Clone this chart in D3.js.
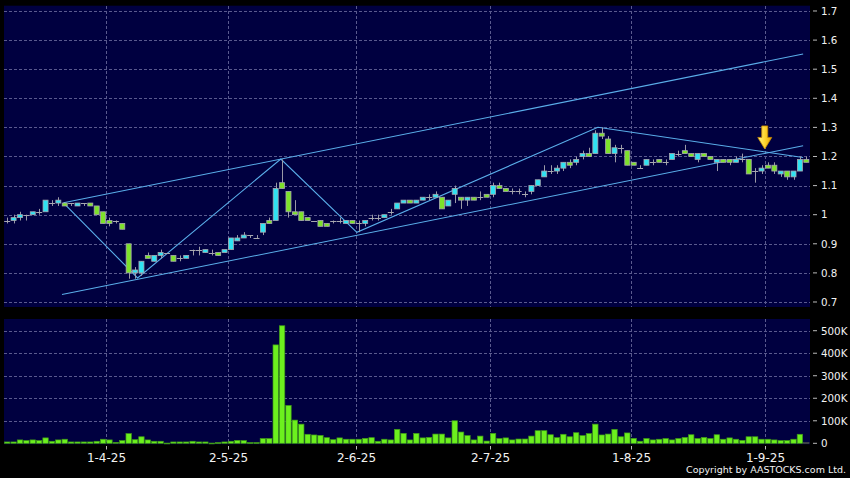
<!DOCTYPE html>
<html><head><meta charset="utf-8">
<script src="https://cdn.jsdelivr.net/npm/d3@7/dist/d3.min.js"></script>
<style>html,body{margin:0;padding:0;background:#000;}svg{display:block;}</style>
</head><body>
<svg id="c" width="850" height="478"></svg>
<script>
// ---- categories: HK trading days 10 Mar 2025 – 9 Sep 2025 ----
const marDays = [10,11,12,13,14,17,18,19,20,21,24,25,26,27,28,31];
const aprDays = [1,2,3,7,8,9,10,11,14,15,16,17,22,23,24,25,28,29,30];
const mayDays = [2,6,7,8,9,12,13,14,15,16,19,20,21,22,23,26,27,28,29,30];
const junDays = [2,3,4,5,6,9,10,11,12,13,16,17,18,19,20,23,24,25,26,27,30];
const julDays = [2,3,4,7,8,9,10,11,14,15,16,17,18,21,22,23,24,25,28,29,30,31];
const augDays = [1,4,5,6,7,8,11,12,13,14,15,18,19,20,21,22,25,26,27,28,29];
const sepDays = [1,2,3,4,5,8,9];
const monthDays = [[3,marDays],[4,aprDays],[5,mayDays],[6,junDays],[7,julDays],[8,augDays],[9,sepDays]];
const dates = monthDays.flatMap(([m,ds]) => ds.map(d => `2025-${String(m).padStart(2,"0")}-${String(d).padStart(2,"0")}`));

// ---- series ----
const open  = [0.98,0.98,0.99,1.00,1.00,1.01,1.01,1.04,1.04,1.04,1.04,1.03,1.04,1.04,1.03,1.01,0.98,0.98,0.97,0.90,
               0.80,0.80,0.86,0.84,0.86,0.87,0.86,0.85,0.85,0.88,0.88,0.87,0.87,0.87,0.87,0.88,0.91,0.92,0.93,0.92,
               0.94,0.98,0.98,1.11,1.08,1.01,1.01,0.99,0.98,0.98,0.97,0.98,0.98,0.97,0.98,0.97,0.97,0.99,0.99,0.99,
               1.01,1.02,1.04,1.05,1.04,1.05,1.06,1.06,1.06,1.03,1.07,1.06,1.05,1.06,1.06,1.07,1.07,1.10,1.09,1.08,
               1.08,1.07,1.08,1.10,1.13,1.15,1.15,1.16,1.18,1.18,1.20,1.21,1.21,1.28,1.26,1.21,1.23,1.22,1.18,1.16,
               1.17,1.18,1.19,1.18,1.19,1.21,1.22,1.21,1.19,1.21,1.20,1.18,1.19,1.19,1.18,1.19,1.19,1.15,1.15,1.17,
               1.17,1.14,1.15,1.13,1.15,1.19];
const high  = [0.99,1.00,1.01,1.00,1.01,1.02,1.05,1.05,1.06,1.04,1.04,1.04,1.04,1.04,1.03,1.01,0.99,0.98,0.97,0.90,
               0.82,0.84,0.87,0.86,0.88,0.87,0.86,0.86,0.86,0.88,0.89,0.88,0.88,0.87,0.88,0.92,0.93,0.94,0.93,0.93,
               0.97,0.99,1.11,1.19,1.08,1.05,1.01,0.99,0.98,0.98,0.97,0.98,0.99,0.98,0.98,0.98,0.98,1.00,1.00,1.00,
               1.02,1.04,1.05,1.05,1.05,1.06,1.07,1.08,1.06,1.05,1.10,1.06,1.06,1.06,1.08,1.07,1.11,1.11,1.09,1.09,
               1.09,1.08,1.10,1.12,1.17,1.17,1.17,1.18,1.19,1.20,1.22,1.23,1.29,1.30,1.27,1.24,1.24,1.22,1.18,1.17,
               1.19,1.19,1.19,1.19,1.21,1.22,1.24,1.21,1.21,1.21,1.20,1.19,1.19,1.19,1.20,1.21,1.19,1.16,1.17,1.18,
               1.18,1.15,1.15,1.15,1.20,1.20];
const low   = [0.97,0.97,0.98,0.98,1.00,1.00,1.01,1.03,1.03,1.03,1.03,1.03,1.03,1.03,1.00,0.97,0.96,0.97,0.95,0.78,
               0.78,0.79,0.85,0.84,0.85,0.87,0.84,0.84,0.85,0.86,0.86,0.87,0.86,0.86,0.87,0.88,0.91,0.92,0.92,0.92,
               0.93,0.97,0.98,1.09,0.99,1.00,0.98,0.98,0.98,0.96,0.96,0.97,0.97,0.97,0.97,0.94,0.96,0.98,0.98,0.99,
               1.00,1.02,1.04,1.04,1.04,1.05,1.05,1.06,1.02,1.03,1.04,1.02,1.03,1.05,1.05,1.06,1.06,1.09,1.08,1.07,
               1.07,1.06,1.07,1.10,1.13,1.14,1.14,1.15,1.16,1.17,1.19,1.20,1.21,1.26,1.21,1.18,1.21,1.17,1.17,1.16,
               1.17,1.17,1.18,1.17,1.19,1.20,1.21,1.20,1.18,1.20,1.19,1.15,1.18,1.17,1.18,1.18,1.14,1.11,1.14,1.16,
               1.14,1.13,1.12,1.12,1.15,1.18];
const close = [0.98,0.99,1.00,1.00,1.01,1.01,1.05,1.04,1.05,1.03,1.04,1.04,1.04,1.03,1.00,0.97,0.97,0.98,0.95,0.80,
               0.81,0.84,0.85,0.86,0.87,0.87,0.84,0.85,0.86,0.88,0.88,0.88,0.87,0.86,0.88,0.92,0.92,0.93,0.93,0.92,
               0.97,0.97,1.09,1.09,1.01,1.00,0.98,0.98,0.98,0.96,0.96,0.98,0.98,0.98,0.97,0.97,0.98,0.99,0.99,1.00,
               1.01,1.04,1.05,1.04,1.05,1.06,1.06,1.07,1.02,1.05,1.09,1.05,1.06,1.05,1.06,1.06,1.10,1.09,1.08,1.08,
               1.08,1.07,1.10,1.12,1.15,1.15,1.16,1.18,1.17,1.19,1.21,1.20,1.28,1.27,1.21,1.23,1.23,1.17,1.17,1.16,
               1.19,1.18,1.18,1.18,1.21,1.21,1.21,1.20,1.21,1.20,1.19,1.19,1.18,1.18,1.19,1.19,1.14,1.15,1.16,1.16,
               1.15,1.15,1.13,1.15,1.19,1.18];
// volume in thousands of shares
const volumeK = [6,6,15,12,15,12,24,9,15,18,6,6,6,6,9,18,15,4,12,43,
                 16,29,15,9,9,1,6,6,6,9,6,6,1,3,6,9,13,12,3,3,
                 21,21,437,522,168,103,85,40,37,35,25,16,24,18,18,18,22,25,9,18,
                 15,62,44,15,44,24,26,41,41,24,100,50,34,15,32,10,44,21,24,15,
                 19,19,32,56,56,38,25,40,29,47,34,43,85,37,41,62,29,46,22,9,
                 21,15,18,21,15,21,26,38,21,26,21,38,18,24,18,13,29,29,18,18,
                 15,12,12,18,40,3];

// ---- axis ticks / annotations ----
const priceTicks = [0.7,0.8,0.9,1.0,1.1,1.2,1.3,1.4,1.5,1.6,1.7];
const volumeTicks = [0,100000,200000,300000,400000,500000];
const monthTickDates = ["2025-04-01","2025-05-02","2025-06-02","2025-07-02","2025-08-01","2025-09-01"];
// trend lines as [candle index, price]
const channelUpper = [[8.8,1.041],[124.5,1.5522]];
const channelLower = [[8.57,0.7258],[124.5,1.2371]];
const zigzag = [[8.8,1.041],[20.4,0.7825],[42.8,1.1914],[54.7,0.9395],[92.4,1.3003],[124.5,1.1966]];
const arrowAt = [118.5, 1.226];

// ---- scales ----
const svg = d3.select("#c");
const n = dates.length;
const x = d3.scaleBand().domain(dates).range([4, 809.5]);
const step = x.step();
const cx = d => x(d) + step / 2;
const xi = d3.scaleLinear().domain([0, n - 1]).range([cx(dates[0]), cx(dates[n - 1])]);
const yP = d3.scaleLinear().domain([0.6828, 1.7182]).range([307, 5.7]);
const yV = d3.scaleLinear().domain([0, 552000]).range([443.3, 319]);
const panelL = 4, panelR = 810;

const rows = dates.map((d, i) => ({d, i, o: open[i], h: high[i], l: low[i], c: close[i], v: volumeK[i] * 1000}));

svg.append("rect").attr("width", 850).attr("height", 478).attr("fill", "#000");
const bg = "#000040";
svg.append("rect").attr("x", panelL).attr("y", yP.range()[1]).attr("width", panelR - panelL)
   .attr("height", yP.range()[0] - yP.range()[1]).attr("fill", bg);
svg.append("rect").attr("x", panelL).attr("y", yV.range()[1]).attr("width", panelR - panelL)
   .attr("height", yV.range()[0] - yV.range()[1] + 1).attr("fill", bg);

const gridCol = "#5a5a8e";
const grid = svg.append("g").attr("stroke", gridCol).attr("stroke-width", 1).attr("stroke-dasharray", "3,2").attr("shape-rendering", "crispEdges");
grid.selectAll(".hp").data(priceTicks).join("line")
  .attr("x1", panelL).attr("x2", panelR).attr("y1", d => Math.round(yP(d)) + 0.5).attr("y2", d => Math.round(yP(d)) + 0.5);
grid.selectAll(".hv").data(volumeTicks.slice(1)).join("line")
  .attr("x1", panelL).attr("x2", panelR).attr("y1", d => Math.round(yV(d)) + 0.5).attr("y2", d => Math.round(yV(d)) + 0.5);
monthTickDates.forEach(md => {
  const gx = Math.round(x(md)) + 0.5;
  grid.append("line").attr("x1", gx).attr("x2", gx).attr("y1", yP.range()[1]).attr("y2", yP.range()[0]);
  grid.append("line").attr("x1", gx).attr("x2", gx).attr("y1", yV.range()[1]).attr("y2", yV.range()[0]);
});

// ---- volume bars ----
svg.append("g").selectAll("rect").data(rows).join("rect")
  .attr("x", d => x(d.d) + 0.5).attr("width", step - 1.0)
  .attr("y", d => yV(d.v)).attr("height", d => Math.max(yV(0) - yV(d.v), 0.8))
  .attr("fill", d => d.i === n - 1 ? "#3c5a3c" : "#6cf01e")
  .attr("stroke", d => d.i === n - 1 ? "#4a4a4a" : "#3f9a18").attr("stroke-width", 0.7);

// ---- trend lines ----
const line = d3.line().x(p => xi(p[0])).y(p => yP(p[1]));
const tl = svg.append("g").attr("fill", "none").attr("stroke", "#5aaeea").attr("stroke-width", 1.1);
[channelUpper, channelLower, zigzag].forEach(pts => tl.append("path").attr("d", line(pts)));

// ---- candles ----
const cg = svg.append("g");
cg.selectAll(".wick").data(rows).join("line")
  .attr("x1", d => Math.round(cx(d.d)) + 0.5).attr("x2", d => Math.round(cx(d.d)) + 0.5)
  .attr("y1", d => yP(d.h)).attr("y2", d => yP(d.l))
  .attr("stroke", "#9a9aa6").attr("stroke-width", 1);
const bw = 5.0;
cg.selectAll(".body").data(rows.filter(r => r.c !== r.o)).join("rect")
  .attr("x", d => cx(d.d) - bw / 2).attr("width", bw)
  .attr("y", d => yP(Math.max(d.o, d.c))).attr("height", d => Math.abs(yP(d.o) - yP(d.c)))
  .attr("fill", d => d.c > d.o ? "#2fe2f2" : "#7de22a")
  .attr("stroke", "#a8a8b0").attr("stroke-width", 0.8);
cg.selectAll(".doji").data(rows.filter(r => r.c === r.o)).join("line")
  .attr("x1", d => cx(d.d) - bw / 2 - 0.5).attr("x2", d => cx(d.d) + bw / 2 + 0.5)
  .attr("y1", d => Math.round(yP(d.c)) + 0.5).attr("y2", d => Math.round(yP(d.c)) + 0.5)
  .attr("stroke", "#a8a8b0").attr("stroke-width", 1);

// ---- arrow ----
const defs = svg.append("defs");
const gr = defs.append("linearGradient").attr("id", "ag").attr("x1", "0").attr("x2", "1").attr("y1", "0").attr("y2", "0");
gr.append("stop").attr("offset", "0").attr("stop-color", "#fff488");
gr.append("stop").attr("offset", "0.5").attr("stop-color", "#ffd630");
gr.append("stop").attr("offset", "1").attr("stop-color", "#e8a400");
const ax = xi(arrowAt[0]), ay = yP(arrowAt[1]);
svg.append("path")
  .attr("d", `M${ax},${ay} L${ax-7},${ay-11.5} L${ax-3},${ay-11.5} L${ax-3},${ay-23} L${ax+3},${ay-23} L${ax+3},${ay-11.5} L${ax+7},${ay-11.5} Z`)
  .attr("fill", "url(#ag)").attr("stroke", "#c88a00").attr("stroke-width", 0.8);

// ---- right axes ----
const txt = "#f2f2f2";
const ra = svg.append("g").attr("font-family", "DejaVu Sans, Verdana, sans-serif").attr("font-size", 10.3).attr("fill", txt);
priceTicks.forEach(v => {
  const yy = yP(v);
  ra.append("line").attr("x1", 813).attr("x2", 817).attr("y1", yy).attr("y2", yy).attr("stroke", "#bbb").attr("stroke-width", 1);
  ra.append("text").attr("x", 821).attr("y", yy + 3.8).text(d3.format("~g")(v));
});
volumeTicks.forEach(v => {
  const yy = yV(v);
  ra.append("line").attr("x1", 813).attr("x2", 817).attr("y1", yy).attr("y2", yy).attr("stroke", "#bbb").attr("stroke-width", 1);
  ra.append("text").attr("x", 821).attr("y", yy + 3.8).text(v === 0 ? "0" : (v / 1000) + "K");
});

// ---- date axis ----
const fmt = d3.timeFormat("%-d-%-m-%y");
const parse = d3.timeParse("%Y-%m-%d");
const da = svg.append("g").attr("font-family", "DejaVu Sans, Verdana, sans-serif").attr("font-size", 12).attr("fill", txt);
monthTickDates.forEach(md => {
  const gx = Math.round(x(md)) + 0.5;
  da.append("line").attr("x1", gx).attr("x2", gx).attr("y1", 446).attr("y2", 449.5).attr("stroke", "#bbb");
  da.append("text").attr("x", gx).attr("y", 462).attr("text-anchor", "middle").text(fmt(parse(md)));
});
svg.append("text").attr("x", 846).attr("y", 473).attr("text-anchor", "end")
  .attr("font-family", "DejaVu Sans, Verdana, sans-serif").attr("font-size", 9.5).attr("fill", txt)
  .text("Copyright by AASTOCKS.com Ltd.");
</script>
</body></html>
